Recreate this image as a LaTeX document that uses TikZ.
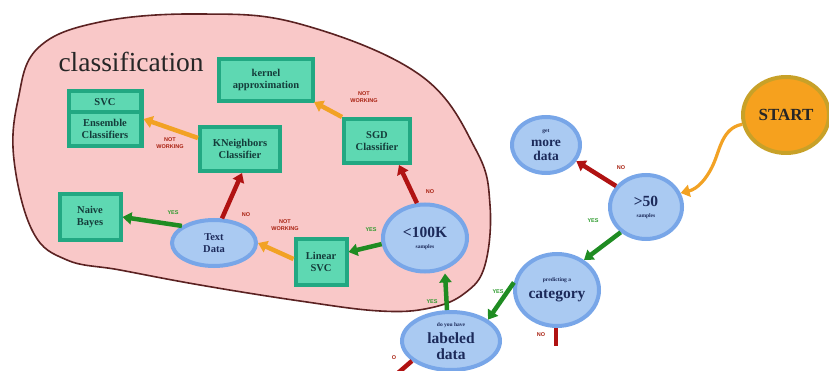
\documentclass[tikz,border=0pt]{standalone}
\usepackage{fontspec}
\setmainfont{Liberation Serif}
\setsansfont{Liberation Sans}
\usetikzlibrary{arrows.meta,shapes.geometric}
\definecolor{pinkbg}{HTML}{F9C8C8}
\definecolor{blobline}{HTML}{5B2222}
\definecolor{boxouter}{HTML}{22A882}
\definecolor{boxinner}{HTML}{5ED8B2}
\definecolor{boxtext}{HTML}{143C3A}
\definecolor{ellfill}{HTML}{AACAF2}
\definecolor{elldraw}{HTML}{78A6E8}
\definecolor{elltext}{HTML}{1C2A5A}
\definecolor{startfill}{HTML}{F6A11E}
\definecolor{startdraw}{HTML}{C8A128}
\definecolor{ared}{HTML}{B01212}
\definecolor{agreen}{HTML}{1F8C22}
\definecolor{aorange}{HTML}{F2A224}
\definecolor{lred}{HTML}{A82010}
\definecolor{lgreen}{HTML}{2C9A2C}
\newcommand\smalltxt[1]{{\fontsize{5.5}{6}\selectfont #1}}
\tikzset{
  mlbox/.style={draw=boxouter, fill=boxinner, line width=4pt, inner sep=1pt,
    align=center, text=boxtext, font=\bfseries\fontsize{10.5}{11.5}\selectfont},
  dell/.style={ellipse, draw=elldraw, fill=ellfill, line width=4pt, inner sep=0pt,
    align=center, text=elltext, font=\bfseries\fontsize{15.5}{15}\selectfont},
  farrow/.style={line width=4.5pt, -{Triangle[width=12pt,length=9pt]}},
  redarrow/.style={farrow, draw=ared},
  greenarrow/.style={farrow, draw=agreen},
  orangearrow/.style={farrow, draw=aorange},
  redstub/.style={line width=4.5pt, draw=ared},
  lab/.style={font=\sffamily\bfseries\fontsize{5.5}{6.5}\selectfont, align=center, inner sep=0pt},
  nolab/.style={lab, text=lred},
  yeslab/.style={lab, text=lgreen}
}
\begin{document}
\begin{tikzpicture}[x=1pt,y=-1pt]
\useasboundingbox (0,0) rectangle (829,371);
% classification region
\draw[fill=pinkbg, draw=blobline, line width=1.6pt]
  plot[smooth cycle, tension=0.65] coordinates {(14,160) (18,100) (38,48) (100,22) (200,14) (300,24) (420,75) (476,150) (490,205) (485,265) (465,293) (430,308) (380,311) (300,301) (200,285) (120,270) (67,260) (33,232)};
\node[font=\fontsize{27.5}{29}\selectfont, text=black!85, anchor=west] (cls) at (55,62) {classification};

% boxes
\node[mlbox, minimum width=94pt, minimum height=42pt] (kernel) at (266,80) {kernel\\approximation};
\node[draw=boxouter, fill=boxouter, line width=1pt, minimum width=76pt, minimum height=58pt] (svc) at (105,119) {};
\node[fill=boxinner, minimum width=68pt, minimum height=17pt, inner sep=0pt, text=boxtext, font=\bfseries\fontsize{10.5}{11.5}\selectfont] (svctop) at (105,102) {SVC};
\node[fill=boxinner, minimum width=68pt, minimum height=30pt, inner sep=0pt, align=center, text=boxtext, font=\bfseries\fontsize{10.5}{11.5}\selectfont] (ens) at (105,129) {Ensemble\\Classifiers};
\node[mlbox, minimum width=80pt, minimum height=44pt] (kn) at (240,149) {KNeighbors\\Classifier};
\node[mlbox, minimum width=66pt, minimum height=44pt] (sgd) at (377,141) {SGD\\Classifier};
\node[mlbox, minimum width=61pt, minimum height=46pt] (nb) at (90,217) {Naive\\Bayes};
\node[mlbox, minimum width=51pt, minimum height=45pt] (lin) at (321,262) {Linear\\SVC};

% ellipses
\node[dell, minimum width=84pt, minimum height=46pt, font=\bfseries\fontsize{10.5}{11.5}\selectfont] (text) at (214,243) {Text\\Data};
\node[dell, minimum width=84pt, minimum height=67pt] (lt100) at (425,238) {<100K\\[-4pt]\smalltxt{samples}};
\node[dell, minimum width=98pt, minimum height=58pt] (labeled) at (451,341) {\smalltxt{do you have}\\[2pt]labeled\\[1pt]data};
\node[dell, minimum width=84pt, minimum height=72pt] (cat) at (557,290) {\smalltxt{predicting a}\\[2pt]category};
\node[dell, minimum width=72pt, minimum height=64pt] (gt50) at (646,207) {>50\\[-4pt]\smalltxt{samples}};
\node[dell, minimum width=68pt, minimum height=56pt, font=\bfseries\fontsize{13.5}{14}\selectfont] (more) at (546,145) {\smalltxt{get}\\[0pt]more\\[0pt]data};
\node[ellipse, draw=startdraw, fill=startfill, line width=4pt, inner sep=0pt, minimum width=86pt, minimum height=76pt, font=\bfseries\fontsize{17}{18}\selectfont, text=black!85] (start) at (786,115) {START};

\coordinate (catno) at (556,346);
\coordinate (labno) at (398,373);

% connectors
\draw[orangearrow, line width=3.2pt] (start.192) .. controls (722,128) and (720,150) .. (713,165) .. controls (706,180) and (697,189) .. (gt50.22);
\draw[redarrow] (gt50.145) -- (more.-28);
\draw[greenarrow] (gt50.225) -- (cat.48);
\draw[greenarrow] (cat.170) -- (labeled.30);
\draw[redstub] ([xshift=-1pt]cat.south) -- (catno);
\draw[redstub] (labeled.207) -- (labno);
\draw[greenarrow] ([xshift=-4pt]labeled.north) -- ([xshift=20pt]lt100.south);
\draw[redarrow] (lt100.103) -- ([xshift=22pt]sgd.south);
\draw[greenarrow] (lt100.188) -- ([yshift=10pt]lin.east);
\draw[orangearrow] ([yshift=3pt]lin.west) -- (text.east);
\draw[redarrow] (text.72) -- ([xshift=2pt]kn.south);
\draw[greenarrow] (text.152) -- (nb.east);
\draw[orangearrow] ([yshift=11pt]kn.west) -- (svc.east);
\draw[orangearrow] (sgd.north west) -- ([xshift=-1pt,yshift=1pt]kernel.south east);

% labels
\node[nolab] (l1) at (621,168) {NO};
\node[yeslab] (l2) at (593,221) {YES};
\node[yeslab] (l3) at (498,292) {YES};
\node[nolab] (l4) at (541,335) {NO};
\node[yeslab] (l5) at (432,302) {YES};
\node[nolab] (l6) at (394,358) {O};
\node[nolab] (l7) at (430,192) {NO};
\node[yeslab] (l8) at (371,230) {YES};
\node[nolab] (l9) at (285,225) {NOT\\WORKING};
\node[nolab] (l10) at (246,215) {NO};
\node[yeslab] (l11) at (173,213) {YES};
\node[nolab] (l12) at (170,143) {NOT\\WORKING};
\node[nolab] (l13) at (364,97) {NOT\\WORKING};
\end{tikzpicture}
\end{document}
